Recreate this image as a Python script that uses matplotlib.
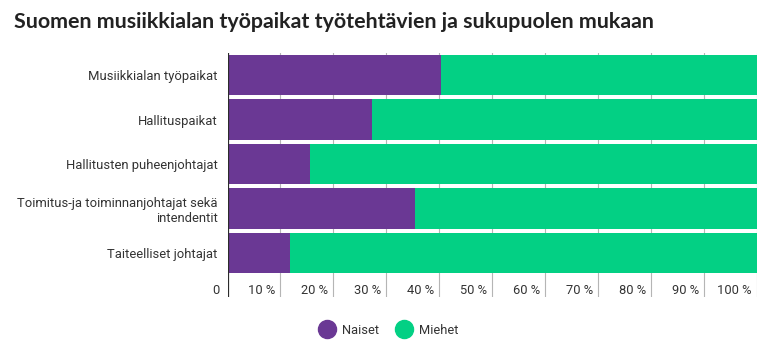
import matplotlib
matplotlib.use("Agg")
import matplotlib.pyplot as plt
from matplotlib.lines import Line2D
from matplotlib.transforms import blended_transform_factory

# Share of women (Naiset) per role, percent; men (Miehet) make up the rest
categories = [
    "Musiikkialan työpaikat",
    "Hallituspaikat",
    "Hallitusten puheenjohtajat",
    "Toimitus-ja toiminnanjohtajat sekä\nintendentit",
    "Taiteelliset johtajat",
]
naiset = [40.3, 27.2, 15.6, 35.4, 11.8]
miehet = [100 - v for v in naiset]
series_names = ["Naiset", "Miehet"]
tick_values = [0, 10, 20, 30, 40, 50, 60, 70, 80, 90, 100]
tick_labels = ["0"] + [f"{v} %" for v in tick_values[1:]]

PURPLE = "#6a3894"
GREEN = "#03d084"
TEXT = "#333333"
GRID = "#b5b5b5"

W, H = 783, 349
fig = plt.figure(figsize=(W / 100, H / 100), dpi=100)
fig.patch.set_facecolor("white")

left, right, top, bottom = 227.5, 757, 53, 297
ax = fig.add_axes([left / W, 1 - bottom / H, (right - left) / W, (bottom - top) / H])

step = 44.5
first_center = 75
ypos = list(range(len(categories)))
ax.set_xlim(0, 100)
ax.set_ylim((bottom - first_center) / step, -(first_center - top) / step)

ax.barh(ypos, naiset, height=0.9, color=PURPLE, zorder=2)
ax.barh(ypos, miehet, left=naiset, height=0.9, color=GREEN, zorder=2)

# vertical gridlines behind bars
for v in tick_values[1:]:
    ax.axvline(v, color=GRID, lw=0.8, zorder=1)
ax.axvline(0, color="#2b2b2b", lw=1.6, zorder=3)

for s in ax.spines.values():
    s.set_visible(False)
ax.set_xticks([])
ax.set_yticks(ypos)
ax.set_yticklabels(categories, fontsize=9.35, color=TEXT, family="Roboto",
                   linespacing=1.2)
ax.tick_params(axis="y", length=0, pad=7)
for lbl in ax.get_yticklabels():
    lbl.set_horizontalalignment("right")
    lbl.set_multialignment("right")

# tick labels sit just left of each gridline, below the bars
trans = blended_transform_factory(ax.transData, ax.transAxes)
label_y = 1 - (290 - top) / (bottom - top)
for v, t in zip(tick_values, tick_labels):
    ax.text(v - 1.0 if v else -1.5, label_y, t, transform=trans, ha="right",
            va="center", fontsize=9.3, color=TEXT, family="Roboto")

fig.text(14 / W, 1 - 22 / H, "Suomen musiikkialan työpaikat työtehtävien ja sukupuolen mukaan",
         fontsize=15.4, fontweight="bold", color="#222222", family="Lato",
         ha="left", va="center")

handles = [
    Line2D([], [], marker="o", ls="", markersize=13, markerfacecolor=c,
           markeredgecolor=c)
    for c in (PURPLE, GREEN)
]
fig.legend(handles, series_names, loc="center", bbox_to_anchor=(386 / W, 1 - 330 / H),
           ncol=2, frameon=False, handletextpad=0.2, columnspacing=0.9,
           prop={"family": "Roboto", "size": 9.3}, labelcolor=TEXT)

fig.savefig("out.png", dpi=100, facecolor="white")
